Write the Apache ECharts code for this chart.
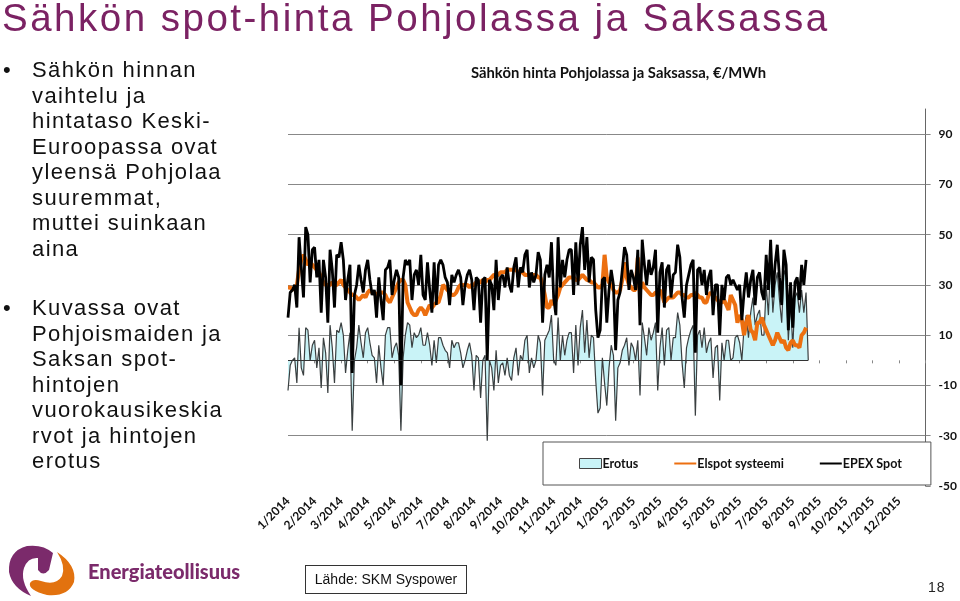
<!DOCTYPE html>
<html>
<head>
<meta charset="utf-8">
<script src="https://cdn.jsdelivr.net/npm/echarts@6/dist/echarts.min.js"></script>
<style>
  html, body { margin: 0; padding: 0; background: #fff; }
  body { width: 960px; height: 601px; position: relative; overflow: hidden; font-family: "Liberation Sans", sans-serif; }
  #chart { position: absolute; left: 0; top: 0; width: 960px; height: 601px; }
  .title { position: absolute; left: 2px; top: -4px; font-size: 38.5px; letter-spacing: 2.5px; color: #7b2263; white-space: nowrap; }
  .bullets { position: absolute; left: 32px; font-size: 22px; line-height: 25.5px; letter-spacing: 1.4px; color: #111; white-space: nowrap; }
  .bullets::before { content: "•"; position: absolute; left: -29px; top: 0; }
  .source { position: absolute; left: 305px; top: 565px; width: 160px; height: 27px; border: 1.5px solid #333; font-size: 14px; line-height: 27px; text-align: center; color: #111; }
  .page { position: absolute; left: 928px; top: 579px; font-size: 14px; color: #222; letter-spacing: 1px; }
  .logoText { position: absolute; left: 88px; top: 559px; font-family: Lato, sans-serif; font-weight: 900; font-size: 20px; color: #7b2a6b; white-space: nowrap; }
  svg { position: absolute; left: 0; top: 535px; }
</style>
</head>
<body>
<div id="chart"></div>
<div class="title">Sähkön spot-hinta Pohjolassa ja Saksassa</div>
<div class="bullets" style="top:57px">Sähkön hinnan<br>vaihtelu ja<br>hintataso Keski-<br>Euroopassa ovat<br>yleensä Pohjolaa<br>suuremmat,<br>muttei suinkaan<br>aina</div>
<div class="bullets" style="top:295px">Kuvassa ovat<br>Pohjoismaiden ja<br>Saksan spot-<br>hintojen<br>vuorokausikeskia<br>rvot ja hintojen<br>erotus</div>
<svg width="90" height="66" viewBox="0 535 90 66">
  <path fill="#7b2a6b" d="M53 553 Q43 544 27 546 Q8 551 9 572 Q12 588 31 596 Q20 580 24 568 Q28 557 38 558 L38 570 Q43 577 49 570 Z"/>
  <path fill="#e2720f" d="M57 552 Q77 565 74 582 Q68 597 47 595 Q28 590 30 583 Q33 578 41 581 Q56 586 62 576 Q66 566 57 552 Z"/>
</svg>
<div class="logoText">Energiateollisuus</div>
<div class="source">Lähde: SKM Syspower</div>
<div class="page">18</div>
<script>
const monthLabels = ['1/2014','2/2014','3/2014','4/2014','5/2014','6/2014','7/2014','8/2014','9/2014','10/2014','11/2014','12/2014',
  '1/2015','2/2015','3/2015','4/2015','5/2015','6/2015','7/2015','8/2015','9/2015','10/2015','11/2015','12/2015']
const yTicks = [-50,-30,-10,10,30,50,70,90]
// values, 12 samples per month
const samplesPerMonth = 12
const epexSpot = [
  17,27,28,30,21,49,37,25,53,50,31,44,45,33,40,19,40,33,15,44,
  36,21,42,41,47,40,24,32,38,-5,26,30,38,32,27,36,40,32,26,28,
  17,33,24,16,36,37,40,26,32,36,33,-10,33,40,38,40,24,34,36,30,
  42,26,24,39,28,19,39,22,38,40,38,33,31,22,34,31,34,36,33,22,
  30,34,36,32,20,33,32,15,32,33,0,32,30,20,40,24,33,34,29,37,
  30,27,37,41,29,37,35,42,44,29,35,31,34,43,40,15,34,38,33,47,
  25,18,49,29,40,33,40,44,44,26,47,30,46,53,36,49,31,41,40,20,
  9,12,32,33,15,28,36,30,4,24,27,36,45,42,28,36,33,28,44,14,
  48,38,30,40,34,37,44,11,35,39,21,36,38,25,34,35,46,41,25,17,
  30,34,38,40,3,36,37,30,36,26,33,36,18,30,30,10,30,24,33,34,
  30,32,30,28,30,16,27,35,25,32,36,22,33,35,27,24,42,28,48,25,
  38,46,33,22,44,38,12,31,13,31,33,24,38,30,40
]
const elspot = [
  29,29,28,29,30,36,40,42,40,38,39,38,37,36,35,33,31,30,30,30,
  31,30,30,31,32,30,29,28,27,26,26,25,24,25,26,25,27,28,27,27,
  26,27,27,27,26,24,23,25,27,29,31,32,32,30,23,21,19,18,18,20,
  21,20,18,20,22,21,22,23,23,26,30,29,28,27,26,26,27,29,30,30,
  30,30,29,30,30,31,31,31,32,31,32,32,33,34,34,34,35,35,35,36,
  36,36,36,36,35,35,35,34,34,34,34,34,34,33,33,30,26,21,21,24,
  22,24,26,29,30,31,32,33,33,33,32,32,33,34,33,32,32,31,31,30,
  29,29,30,42,33,31,30,28,27,27,28,32,39,33,30,29,28,28,41,28,
  31,29,28,27,26,26,27,27,28,26,23,24,25,25,25,26,27,27,26,26,
  25,25,26,26,27,26,25,25,23,23,26,27,26,25,24,23,23,24,22,20,
  26,24,22,15,18,16,10,15,18,12,11,8,15,15,17,14,12,10,8,6,
  8,11,9,7,8,5,4,7,8,6,6,5,10,11,13
]
const erotus = [
  -12,-2,0,1,-9,13,-3,-6,13,12,0,6,8,-3,5,-11,9,3,-13,14,
  5,-9,12,11,15,10,-5,4,11,-28,0,5,14,7,1,11,13,7,2,1,
  -9,6,-3,-10,10,13,13,1,5,7,2,-28,1,10,15,14,5,11,9,10,
  13,6,6,11,6,-2,8,-1,9,9,6,4,3,-3,8,5,7,7,3,-3,
  0,4,7,2,-12,2,1,-15,0,2,-32,0,-3,-12,4,-9,-2,-1,-6,1,
  -6,-8,1,5,-6,2,0,8,10,-5,1,-3,0,10,7,-14,8,10,12,18,
  0,-2,17,0,10,2,8,11,11,-5,14,-2,13,20,3,16,1,10,9,-8,
  -21,-19,1,-9,-18,-3,6,2,-24,-3,-1,4,6,9,-2,7,5,0,8,-14,
  15,9,2,13,8,11,15,-12,5,13,-2,12,13,0,9,9,19,14,-1,-11,
  5,9,12,14,-22,10,12,5,13,3,7,9,-7,5,6,-16,7,0,8,8,
  0,1,9,10,7,0,13,18,9,19,25,14,18,20,10,10,30,18,40,19,
  30,35,24,15,36,33,8,24,5,25,27,19,28,19,27,0
]

const toPoints = arr => arr.map((v, i) => [i / samplesPerMonth, v])
const lastMonth = (erotus.length - 1) / samplesPerMonth

const labelFont = { fontFamily: 'Lato, sans-serif', fontWeight: 'bold', color: '#111' }
const chart = echarts.init(document.getElementById('chart'), null, { renderer: 'canvas' })

chart.setOption({
  animation: false,
  title: {
    text: 'Sähkön hinta Pohjolassa ja Saksassa, €/MWh',
    left: 471,
    top: 66,
    padding: 0,
    textStyle: { ...labelFont, fontSize: 14.8 }
  },
  legend: {
    left: 543,
    top: 442,
    padding: [15, 29, 15, 36],
    itemGap: 35,
    itemWidth: 22,
    itemHeight: 10,
    backgroundColor: '#fff',
    borderColor: '#555',
    borderWidth: 1,
    textStyle: { ...labelFont, fontSize: 12.5, padding: [0, 0, 0, -4] },
    data: [
      { name: 'Erotus', icon: 'rect', itemStyle: { color: '#c9f3f7', borderColor: '#444', borderWidth: 1 } },
      // the line icon always carries a marker, so hide it
      { name: 'Elspot systeemi', itemStyle: { opacity: 0 } },
      { name: 'EPEX Spot', itemStyle: { opacity: 0 } }
    ]
  },
  grid: { left: 288, right: 31, top: 109, bottom: 115 },
  xAxis: [
    {
      // month labels along the bottom of the plot
      type: 'value',
      min: 0,
      max: 24,
      interval: 1,
      position: 'bottom',
      axisLine: { show: false, onZero: false },
      axisTick: { show: false },
      splitLine: { show: false },
      axisLabel: {
        ...labelFont,
        fontSize: 12,
        rotate: 45,
        margin: 13,
        showMaxLabel: false,
        formatter: v => monthLabels[v] || ''
      }
    },
    {
      // monthly ticks on the zero line
      type: 'value',
      min: 0,
      max: 24,
      interval: 1,
      position: 'bottom',
      axisLine: { show: false, onZero: true },
      axisTick: { show: true, length: 3, lineStyle: { color: '#888' } },
      axisLabel: { show: false },
      splitLine: { show: false }
    }
  ],
  yAxis: {
    type: 'value',
    position: 'right',
    min: -50,
    max: 100,
    interval: 20,
    axisLine: { show: true, onZero: false, lineStyle: { color: '#666', width: 1 } },
    axisTick: { show: true, length: 5, customValues: yTicks, lineStyle: { color: '#888' } },
    axisLabel: { ...labelFont, fontSize: 12, margin: 13, customValues: yTicks },
    splitLine: { show: true, showMinLine: false, showMaxLine: false, lineStyle: { color: '#888', width: 1 } }
  },
  series: [
    {
      name: 'Erotus',
      type: 'line',
      xAxisIndex: 1,
      data: toPoints(erotus),
      symbol: 'none',
      lineStyle: { color: '#3a3f40', width: 1.2 },
      itemStyle: { color: '#c9f3f7' },
      areaStyle: { color: '#c9f3f7', opacity: 1 },
      // top grid line and the zero line, which stops where the data stops
      markLine: {
        silent: true,
        symbol: 'none',
        label: { show: false },
        animation: false,
        data: [
          [{ coord: [0, 90], lineStyle: { color: '#888', width: 1, type: 'solid' } }, { coord: [24, 90] }],
          [{ coord: [0, 0], lineStyle: { color: '#333', width: 1.2, type: 'solid' } }, { coord: [lastMonth, 0] }]
        ]
      },
      z: 2
    },
    {
      name: 'Elspot systeemi',
      type: 'line',
      xAxisIndex: 1,
      data: toPoints(elspot),
      symbol: 'none',
      lineStyle: { color: '#ec6f10', width: 4 },
      itemStyle: { color: '#ec6f10' },
      z: 3
    },
    {
      name: 'EPEX Spot',
      type: 'line',
      xAxisIndex: 1,
      data: toPoints(epexSpot),
      symbol: 'none',
      lineStyle: { color: '#000', width: 2.8 },
      itemStyle: { color: '#000' },
      z: 4
    }
  ]
})

window.addEventListener('resize', () => chart.resize())
</script>
</body>
</html>
